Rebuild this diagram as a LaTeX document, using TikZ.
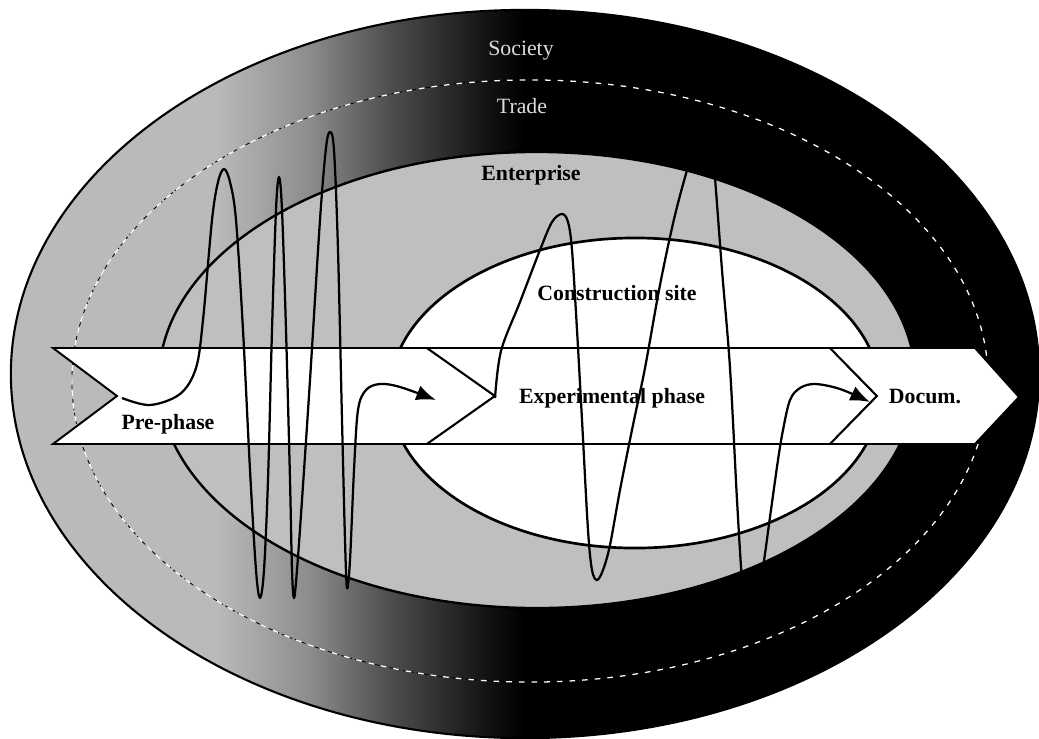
\documentclass[tikz,border=0pt]{standalone}
\usepackage{fontspec}
\setmainfont{Liberation Serif}
\usetikzlibrary{shapes.geometric, arrows.meta}
\definecolor{Csoc}{gray}{0.73}
\definecolor{Cent}{gray}{0.75}
\definecolor{Clbl}{gray}{0.86}
\definecolor{Cg55}{gray}{0.55}
\definecolor{Cg30}{gray}{0.30}
\definecolor{Cg08}{gray}{0.08}
\pgfdeclarehorizontalshading{socshade}{100bp}{color(0bp)=(Csoc); color(35bp)=(Csoc);
  color(39.5bp)=(Cg55); color(43.5bp)=(Cg30); color(48bp)=(Cg08); color(50bp)=(black);
  color(100bp)=(black)}
\tikzset{
  zone/.style={ellipse, inner sep=0pt, outer sep=0pt},
  chev/.style={draw=black, fill=white, line width=1.4pt, line join=miter},
  lbl/.style={font=\fontsize{15.5}{18}\selectfont\bfseries, anchor=base, inner sep=0pt},
  rlbl/.style={font=\fontsize{15.5}{18}\selectfont, anchor=base, inner sep=0pt, text=Clbl},
  wave/.style={line width=1.6pt, line join=round, -{Latex[length=14pt,width=11pt]}}
}
\begin{document}
\begin{tikzpicture}[x=0.025cm, y=-0.025cm]
\useasboundingbox (0,0) rectangle (1039,738);

% ═══════════════════════════════════════════════════════════════
%  Rings  Society > Trade > Enterprise > Construction site
% ═══════════════════════════════════════════════════════════════
\node[zone, shading=socshade, draw=black, line width=1.5pt,
      minimum width=25.7cm, minimum height=18.2cm] (Gsoc) at (525,374) {};
\node[zone, draw=black, densely dashed, line width=0.6pt,
      minimum width=22.9cm, minimum height=15.05cm] (Gtrd) at (530,381) {};
\node[zone, draw=white, dash pattern=on 4pt off 5pt, line width=0.9pt,
      minimum width=22.9cm, minimum height=15.05cm] (Gtrdw) at (530,381) {};
\node[zone, fill=Cent, draw=black, line width=1.7pt,
      minimum width=18.9cm, minimum height=11.4cm] (Gent) at (537,380) {};
\node[zone, fill=white, draw=black, line width=1.9pt,
      minimum width=12.25cm, minimum height=7.75cm] (Gcon) at (635,393) {};

\node[rlbl] (Lsoc) at (521,55)  {Society};
\node[rlbl] (Ltrd) at (522,113) {Trade};
\node[lbl]  (Lent) at (531,180) {Enterprise};
\node[lbl]  (Lcon) at (617,300) {Construction site};

% ═══════════════════════════════════════════════════════════════
%  Phase chevrons  (band y=348..444, mid y=396)
% ═══════════════════════════════════════════════════════════════
\draw[chev] (53,348) -- (427,348) -- (495,396) -- (427,444) -- (53,444) -- (117,396) -- cycle;
\draw[chev] (427,348) -- (830,348) -- (877,396) -- (830,444) -- (427,444) -- (495,396) -- cycle;
\draw[chev] (830,348) -- (975,348) -- (1019,397) -- (975,444) -- (830,444) -- (877,396) -- cycle;

\node[lbl] (Lpre) at (168,429) {Pre-phase};
\node[lbl] (Lexp) at (612,403) {Experimental phase};
\node[lbl] (Ldoc) at (925,403) {Docum.};

% ═══════════════════════════════════════════════════════════════
%  Iteration waves
% ═══════════════════════════════════════════════════════════════
\coordinate (W1s) at (122,398);
\coordinate (W1e) at (436,400);
\draw[wave] plot[smooth, tension=0.55] coordinates {(W1s) (150,405) (180,394) (196,368)
  (203,320) (212,220) (218,182) (224,169) (230,182) (236,220) (243,330) (250,470)
  (256,570) (260,598) (264,570) (268,480) (272,330) (276,210) (279,177) (282,210)
  (286,330) (290,480) (292,570) (294,598) (297,570) (302,500) (310,380) (320,220)
  (326,148) (330,132) (334,150) (338,250) (342,420) (345,540) (347,588) (350,560)
  (354,470) (358,410) (366,390) (380,384) (400,387) (W1e)};

\coordinate (W2s) at (495,398);
\coordinate (W2e) at (870,402);
\draw[wave] plot[smooth, tension=0.55] coordinates {(W2s) (501,351) (520,302) (540,250)
  (552,222) (562,214) (568,222) (572,250) (577,330) (582,420) (588,530) (592,570)
  (597,580) (603,570) (610,545) (620,490) (633,425) (645,368) (660,285) (675,215)
  (690,160) (700,130) (706,122) (711,135) (715,178) (722,270) (730,368) (737,500)
  (742,580) (746,605) (751,612) (756,600) (763,567) (770,517) (778,460) (783,430)
  (790,400) (800,388) (815,384) (840,389) (W2e)};

\end{tikzpicture}
\end{document}
